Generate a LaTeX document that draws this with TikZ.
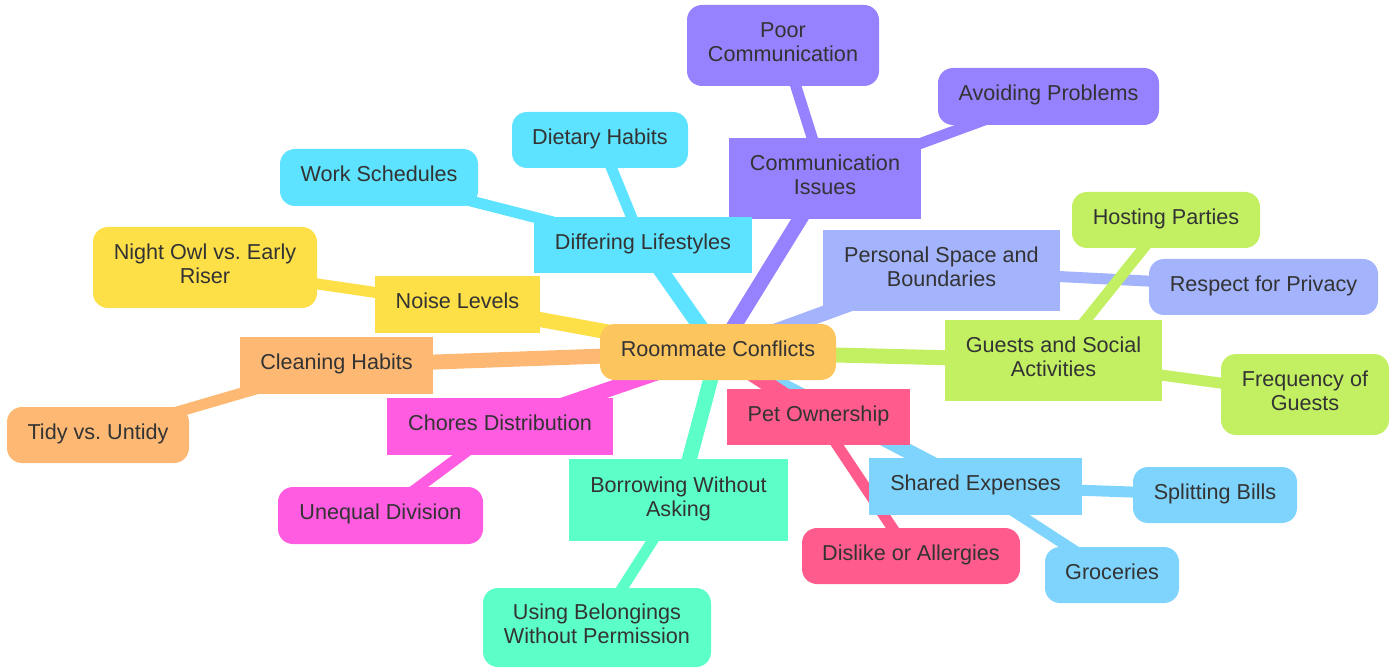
\documentclass[tikz,border=0pt]{standalone}
\usepackage{fontspec}
\setmainfont{Liberation Sans}
\frenchspacing
\usetikzlibrary{backgrounds}
\definecolor{cRoot}{HTML}{FDC55E}
\definecolor{cComm}{HTML}{9681FF}
\definecolor{cLife}{HTML}{5DE3FF}
\definecolor{cNoise}{HTML}{FDDF47}
\definecolor{cClean}{HTML}{FDB974}
\definecolor{cChore}{HTML}{FF5CE1}
\definecolor{cBorrow}{HTML}{5DFFC8}
\definecolor{cPet}{HTML}{FF5C8D}
\definecolor{cShared}{HTML}{7ED4FC}
\definecolor{cGuest}{HTML}{C2F062}
\definecolor{cSpace}{HTML}{A3B3FC}
\definecolor{txtgray}{HTML}{333333}
\tikzset{
  box/.style={inner sep=0pt,align=center,text=txtgray,text depth=7pt,
    font=\fontsize{21.6}{24}\selectfont},
  rootbox/.style={box,rounded corners=15pt},
  secbox/.style={box},
  leafbox/.style={box,rounded corners=15pt},
  lvlone/.style={line width=15pt},
  lvltwo/.style={line width=11pt}
}
\begin{document}
\begin{tikzpicture}[x=1pt,y=-1pt]
\useasboundingbox (0,0) rectangle (1392,668);
% root
\node[rootbox,fill=cRoot,minimum width=236,minimum height=56] (root) at (718,352) {Roommate Conflicts};
% sections
\node[secbox,fill=cComm,minimum width=192,minimum height=81] (comm) at (825,178.5) {Communication\\Issues};
\node[secbox,fill=cLife,minimum width=218,minimum height=56] (life) at (643,245) {Differing Lifestyles};
\node[secbox,fill=cNoise,minimum width=165,minimum height=57] (noise) at (457.5,304.5) {Noise Levels};
\node[secbox,fill=cClean,minimum width=193,minimum height=57] (clean) at (336.5,365.5) {Cleaning Habits};
\node[secbox,fill=cChore,minimum width=226,minimum height=57] (chores) at (500,426.5) {Chores Distribution};
\node[secbox,fill=cBorrow,minimum width=219,minimum height=82] (borrow) at (678.5,500) {Borrowing Without\\Asking};
\node[secbox,fill=cPet,minimum width=183,minimum height=56] (pet) at (818.5,417) {Pet Ownership};
\node[secbox,fill=cShared,minimum width=213,minimum height=57] (shared) at (975.5,486.5) {Shared Expenses};
\node[secbox,fill=cSpace,minimum width=237,minimum height=81] (space) at (941.5,270.5) {Personal Space and\\Boundaries};
\node[secbox,fill=cGuest,minimum width=217,minimum height=81] (guests) at (1053.5,360.5) {Guests and Social\\Activities};
% leaves
\node[leafbox,fill=cComm,minimum width=192,minimum height=81] (poor) at (783,45.5) {Poor\\Communication};
\node[leafbox,fill=cComm,minimum width=221,minimum height=57] (avoid) at (1048.5,96.5) {Avoiding Problems};
\node[leafbox,fill=cLife,minimum width=176,minimum height=56] (diet) at (600,140) {Dietary Habits};
\node[leafbox,fill=cLife,minimum width=198,minimum height=57] (work) at (379,177.5) {Work Schedules};
\node[leafbox,fill=cNoise,minimum width=224,minimum height=81] (owl) at (205,267.5) {Night Owl vs. Early\\Riser};
\node[leafbox,fill=cClean,minimum width=182,minimum height=56] (tidy) at (98,435) {Tidy vs. Untidy};
\node[leafbox,fill=cChore,minimum width=205,minimum height=57] (unequal) at (380.5,515.5) {Unequal Division};
\node[leafbox,fill=cBorrow,minimum width=228,minimum height=79] (using) at (597,627.5) {Using Belongings\\Without Permission};
\node[leafbox,fill=cPet,minimum width=218,minimum height=56] (dislike) at (911,556) {Dislike or Allergies};
\node[leafbox,fill=cShared,minimum width=134,minimum height=56] (groc) at (1112,575) {Groceries};
\node[leafbox,fill=cShared,minimum width=164,minimum height=56] (bills) at (1215,495) {Splitting Bills};
\node[leafbox,fill=cSpace,minimum width=229,minimum height=56] (privacy) at (1263.5,287) {Respect for Privacy};
\node[leafbox,fill=cGuest,minimum width=188,minimum height=56] (hosting) at (1166,220) {Hosting Parties};
\node[leafbox,fill=cGuest,minimum width=168,minimum height=81] (freq) at (1305,394.5) {Frequency of\\Guests};
% connectors
\begin{scope}[on background layer]
\draw[lvlone,cComm](root.center)--(comm.center);
\draw[lvltwo,cComm](comm.center)--(poor.center);
\draw[lvltwo,cComm](comm.center)--(avoid.center);
\draw[lvlone,cLife](root.center)--(life.center);
\draw[lvltwo,cLife](life.center)--(diet.center);
\draw[lvltwo,cLife](life.center)--(work.center);
\draw[lvlone,cNoise](root.center)--(noise.center);
\draw[lvltwo,cNoise](noise.center)--(owl.center);
\draw[lvlone,cClean](root.center)--(clean.center);
\draw[lvltwo,cClean](clean.center)--(tidy.center);
\draw[lvlone,cChore](root.center)--(chores.center);
\draw[lvltwo,cChore](chores.center)--(unequal.center);
\draw[lvlone,cBorrow](root.center)--(borrow.center);
\draw[lvltwo,cBorrow](borrow.center)--(using.center);
\draw[lvlone,cShared](root.center)--(shared.center);
\draw[lvltwo,cShared](shared.center)--(bills.center);
\draw[lvltwo,cShared](shared.center)--(groc.center);
\draw[lvlone,cPet](root.center)--(pet.center);
\draw[lvltwo,cPet](pet.center)--(dislike.center);
\draw[lvlone,cSpace](root.center)--(space.center);
\draw[lvltwo,cSpace](space.center)--(privacy.center);
\draw[lvlone,cGuest](root.center)--(guests.center);
\draw[lvltwo,cGuest](guests.center)--(hosting.center);
\draw[lvltwo,cGuest](guests.center)--(freq.center);
\end{scope}
\end{tikzpicture}
\end{document}
